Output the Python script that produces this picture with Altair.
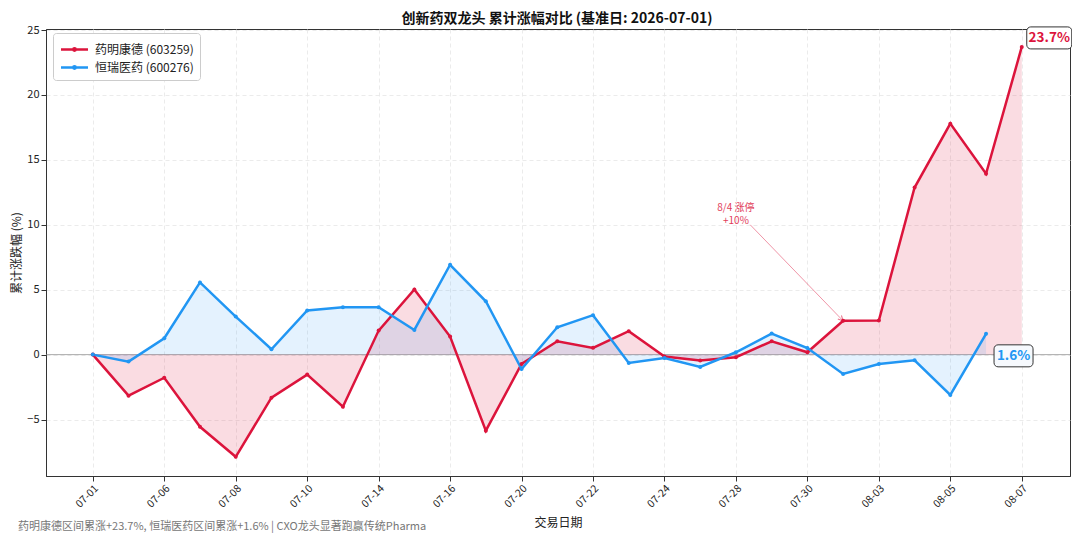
import json
import altair as alt
import pandas as pd

# ---------------- data ----------------
dates = ["07-01", "07-02", "07-06", "07-07", "07-08", "07-09", "07-10", "07-13",
         "07-14", "07-15", "07-16", "07-17", "07-20", "07-21", "07-22", "07-23",
         "07-24", "07-27", "07-28", "07-29", "07-30", "07-31", "08-03", "08-04",
         "08-05", "08-06", "08-07"]
red_vals = [0.0, -3.16, -1.78, -5.56, -7.87, -3.32, -1.54, -4.01, 1.85, 5.02,
            1.39, -5.86, -0.72, 1.03, 0.52, 1.80, -0.15, -0.46, -0.20, 1.03,
            0.18, 2.60, 2.62, 12.87, 17.79, 13.93, 23.7]
blue_vals = [0.0, -0.54, 1.26, 5.56, 2.93, 0.41, 3.40, 3.65, 3.65, 1.90,
             6.92, 4.11, -1.11, 2.11, 3.04, -0.64, -0.26, -0.95, 0.18, 1.62,
             0.51, -1.49, -0.72, -0.44, -3.11, 1.6]
names = ["药明康德 (603259)", "恒瑞医药 (600276)"]
colors = ["#DC143C", "#2196F3"]
title_text = "创新药双龙头 累计涨幅对比 (基准日: 2026-07-01)"
footer_text = "药明康德区间累涨+23.7%, 恒瑞医药区间累涨+1.6% | CXO龙头显著跑赢传统Pharma"
ann_lines = ["8/4 涨停", "+10%"]
ann_text_pos = [18, 11.3]
ann_tail = [18.4, 10.0]
ann_head_idx = 21

rows = []
for i, v in enumerate(red_vals):
    rows.append({"idx": i, "date": dates[i], "series": names[0], "value": v, "zero": 0.0})
for i, v in enumerate(blue_vals):
    rows.append({"idx": i, "date": dates[i], "series": names[1], "value": v, "zero": 0.0})
df = pd.DataFrame(rows)
red_df = df[df.series == names[0]]
blue_df = df[df.series == names[1]]

font = "Noto Sans CJK SC"
W, H = 1024, 447
xscale = alt.Scale(domain=[-1.31, 27.35], nice=False, zero=False)
yscale = alt.Scale(domain=[-9.35, 25.08], nice=False, zero=False)
label_expr = json.dumps(dates, ensure_ascii=False) + "[datum.value]"

x_axis = alt.Axis(values=list(range(0, len(dates), 2)), labelExpr=label_expr,
                  labelAngle=-45, labelFontSize=10.5, tickSize=5, labelPadding=2,
                  grid=True, title="交易日期", titlePadding=8)
y_axis = alt.Axis(values=[-5, 0, 5, 10, 15, 20, 25], labelFontSize=11, tickSize=5,
                  labelPadding=2, grid=True, title="累计涨跌幅 (%)", titlePadding=3)

X = alt.X("idx:Q", scale=xscale, axis=x_axis)
Y = alt.Y("value:Q", scale=yscale, axis=y_axis)

zero = alt.Chart(pd.DataFrame({"value": [0.0]})).mark_rule(
    color="#888", strokeWidth=1, opacity=0.7).encode(y=Y)

red_area = alt.Chart(red_df).mark_area(color=colors[0], opacity=0.15).encode(
    x=X, y=Y, y2=alt.Y2("zero:Q"))
blue_area = alt.Chart(blue_df).mark_area(color=colors[1], opacity=0.12).encode(
    x=X, y=Y, y2=alt.Y2("zero:Q"))

sym = "M-1.5,0H1.5M-0.13,0A0.13,0.13,0,1,1,0.13,0A0.13,0.13,0,1,1,-0.13,0"
lines = alt.Chart(df).mark_line(
    strokeWidth=2.5, point=alt.OverlayMarkDef(size=16, filled=True)
).encode(
    x=X, y=Y,
    color=alt.Color("series:N", scale=alt.Scale(domain=names, range=colors),
                    legend=alt.Legend(title=None, orient="none", legendX=7, legendY=4,
                                      symbolType=sym, symbolSize=324, symbolStrokeWidth=2.5,
                                      labelFont=font, labelFontSize=12, labelColor="#222",
                                      padding=6, strokeColor="#ccc", fillColor="white",
                                      cornerRadius=3, rowPadding=1, labelOffset=10,
                                      symbolOffset=5)),
)

# annotation: arrow + text
ann_df = pd.DataFrame({"idx": [ann_text_pos[0]], "value": [ann_text_pos[1]]})
ann_text = alt.Chart(ann_df).mark_text(
    text=ann_lines, font=font, fontSize=10, lineHeight=13, color=colors[0],
    opacity=0.85, align="center", baseline="middle").encode(x=X, y=Y)
arrow_df = pd.DataFrame({"idx": [ann_tail[0]], "value": [ann_tail[1]],
                         "idx2": [ann_head_idx], "value2": [red_vals[ann_head_idx]]})
arrow = alt.Chart(arrow_df).mark_rule(color=colors[0], opacity=0.45, strokeWidth=1).encode(
    x=X, y=Y, x2=alt.X2("idx2:Q"), y2=alt.Y2("value2:Q"))
head_df = pd.DataFrame({"idx": [ann_head_idx], "value": [red_vals[ann_head_idx]]})
head = alt.Chart(head_df).mark_point(
    shape="M-0.5,1L0,0L0.5,1", angle=136, size=100, filled=False,
    color=colors[0], strokeWidth=1, opacity=0.6).encode(x=X, y=Y)

# end labels
r_df = pd.DataFrame({"idx": [len(red_vals) - 1], "value": [red_vals[-1]],
                     "label": [f"{red_vals[-1]:.1f}%"]})
b_df = pd.DataFrame({"idx": [len(blue_vals) - 1], "value": [blue_vals[-1]],
                     "label": [f"{blue_vals[-1]:.1f}%"]})
r_box = alt.Chart(r_df).mark_rect(
    xOffset=5, x2Offset=50, yOffset=-20, y2Offset=2, fill="white", stroke="#333",
    strokeWidth=1, cornerRadius=4).encode(x=X, x2=alt.X2("idx:Q"), y=Y, y2=alt.Y2("value:Q"))
r_txt = alt.Chart(r_df).mark_text(
    dx=27.5, dy=-9, font=font, fontSize=13.5, fontWeight="bold", color=colors[0],
    align="center", baseline="middle").encode(x=X, y=Y, text="label:N")
b_box = alt.Chart(b_df).mark_rect(
    xOffset=8, x2Offset=47, yOffset=11, y2Offset=33, fill="#f6f9fd", stroke="#333",
    strokeWidth=1, cornerRadius=4).encode(x=X, x2=alt.X2("idx:Q"), y=Y, y2=alt.Y2("value:Q"))
b_txt = alt.Chart(b_df).mark_text(
    dx=27.5, dy=22, font=font, fontSize=13.5, fontWeight="bold", color=colors[1],
    align="center", baseline="middle").encode(x=X, y=Y, text="label:N")

title = alt.Chart(pd.DataFrame({"t": [title_text]})).mark_text(
    font=font, fontSize=14, fontWeight="bold", color="#111", align="center",
    baseline="middle").encode(x=alt.value(511), y=alt.value(-10.5), text="t:N")
footer = alt.Chart(pd.DataFrame({"t": [footer_text]})).mark_text(
    font=font, fontSize=11, color="#777", align="left", baseline="middle"
).encode(x=alt.value(-28), y=alt.value(498), text="t:N")

chart = alt.layer(
    zero, red_area, blue_area, lines, arrow, head, ann_text,
    r_box, r_txt, b_box, b_txt, title, footer
).properties(
    width=W, height=H,
    autosize=alt.AutoSizeParams(type="none"),
    padding={"left": 38, "top": 21, "right": 2, "bottom": 58},
    background="white",
).configure_view(
    stroke="#333", strokeWidth=1
).configure_axis(
    labelFont=font, titleFont=font, titleFontSize=12, titleFontWeight="normal",
    labelColor="#222", titleColor="#222", tickColor="#333", domainColor="#333",
    gridColor="#e6e6e6", gridDash=[4, 3], gridWidth=0.8
)

chart.save("out.html", embed_options={"renderer": "svg", "actions": False})
